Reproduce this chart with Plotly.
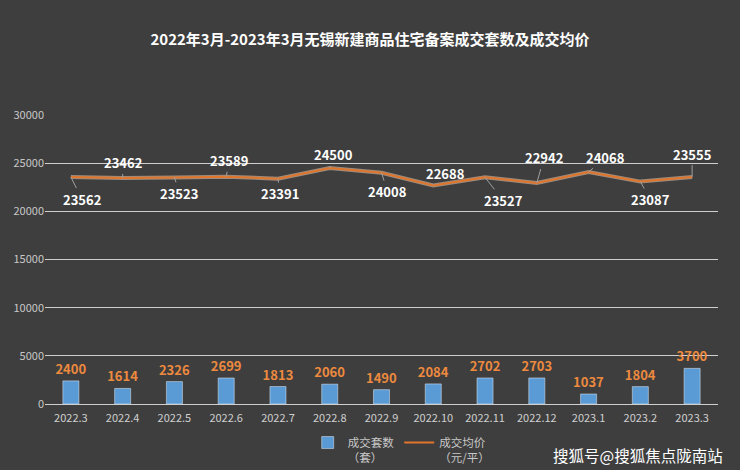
import plotly.graph_objects as go

months = ["2022.3", "2022.4", "2022.5", "2022.6", "2022.7", "2022.8", "2022.9",
          "2022.10", "2022.11", "2022.12", "2023.1", "2023.2", "2023.3"]
units = [2400, 1614, 2326, 2699, 1813, 2060, 1490, 2084, 2702, 2703, 1037, 1804, 3700]
prices = [23562, 23462, 23523, 23589, 23391, 24500, 24008, 22688, 23527, 22942, 24068, 23087, 23555]
label_ax = [11, 0, 5, 3, 2, 4, 6, 12, 18, 7, 17, 10, 0]
label_ay = [22, -15, 16, -16, 15, -13, 19, -12, 23, -25, -15, 18, -23]

fig = go.Figure()
fig.add_trace(go.Bar(
    x=months, y=units, name="成交套数<br>（套）",
    marker_color="#5b9bd5",
    text=[str(v) for v in units], textposition="outside",
    textfont=dict(color="#ed8a3f", size=13, family="Noto Sans CJK SC"),
    texttemplate="<b>%{text}</b>",
    constraintext="none",
    cliponaxis=False,
))
fig.add_trace(go.Scatter(
    x=months, y=prices, mode="lines", showlegend=False, hoverinfo="skip",
    line=dict(color="rgba(250,215,190,0.5)", width=4),
))
fig.add_trace(go.Scatter(
    x=months, y=prices, mode="lines", name="成交均价<br>（元/平）",
    line=dict(color="#e0762c", width=2),
))

for i, (p, ax, ay) in enumerate(zip(prices, label_ax, label_ay)):
    fig.add_annotation(
        x=i, y=p, text="<b>%d</b>" % p, showarrow=True, arrowhead=0,
        arrowwidth=1, arrowcolor="#a0a0a0", ax=ax, ay=ay, standoff=0,
        font=dict(color="#ffffff", size=13, family="Noto Sans CJK SC"),
    )

fig.add_annotation(
    xref="paper", yref="paper", x=1.01, y=-0.176, xanchor="right", yanchor="middle",
    text="搜狐号@搜狐焦点陇南站", showarrow=False,
    font=dict(color="#ffffff", size=15.5, family="Noto Sans CJK SC"),
)

fig.update_layout(
    width=740, height=470,
    paper_bgcolor="#3e3e3e", plot_bgcolor="#3e3e3e",
    margin=dict(l=45, r=22, t=115, b=66, autoexpand=False),
    title=dict(
        text="<b>2022年3月-2023年3月无锡新建商品住宅备案成交套数及成交均价</b>",
        x=0.5, xanchor="center", y=0.915, yanchor="middle",
        font=dict(color="#ffffff", size=15, family="Noto Sans CJK SC"),
    ),
    bargap=0.69,
    font=dict(family="Noto Sans CJK SC", color="#d0d0d0"),
    legend=dict(
        orientation="h", x=0.53, xanchor="center", y=-0.085, yanchor="top",
        font=dict(color="#c8c8c8", size=11.5), bgcolor="rgba(0,0,0,0)",
        valign="top", tracegroupgap=0, itemwidth=30,
    ),
    showlegend=True,
)
fig.update_xaxes(
    type="category", range=[-0.5, len(months) - 0.5],
    showgrid=False, showline=False, tickfont=dict(color="#d0d0d0", size=11),
    ticks="", ticklabelstandoff=6,
)
fig.update_yaxes(
    range=[0, 30000], dtick=5000, showgrid=True, gridcolor="#cfcfcf", gridwidth=1,
    zeroline=True, zerolinecolor="#cfcfcf", zerolinewidth=1,
    tickfont=dict(color="#c8c8c8", size=11), ticks="", showline=False,
    tickformat="d",
)

fig.write_html("out.html")
